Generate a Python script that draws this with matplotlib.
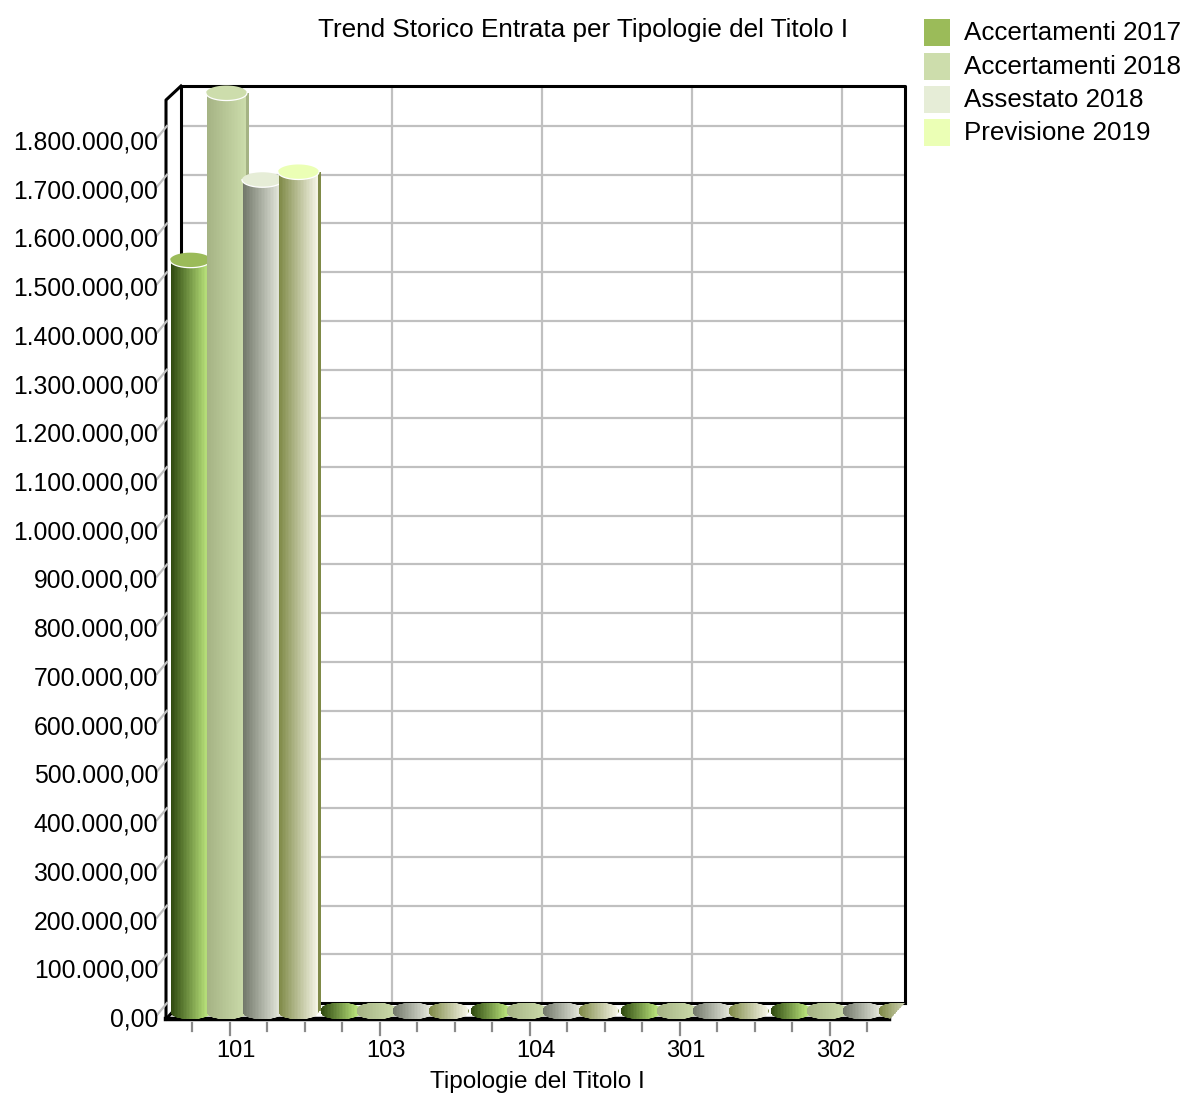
import numpy as np
import matplotlib
matplotlib.use('Agg')
import matplotlib.pyplot as plt
from matplotlib.colors import to_rgb
from matplotlib.patches import Polygon, Rectangle
from matplotlib.path import Path
from matplotlib.transforms import Affine2D, IdentityTransform

# Dati
categorie = ['101', '103', '104', '301', '302']
serie = ['Accertamenti 2017', 'Accertamenti 2018', 'Assestato 2018', 'Previsione 2019']
accertamenti_2017 = [1541000, 0, 0, 0, 0]
accertamenti_2018 = [1884000, 0, 0, 0, 0]
assestato_2018 = [1706000, 0, 0, 0, 0]
previsione_2019 = [1722000, 0, 0, 0, 0]
valori = [accertamenti_2017, accertamenti_2018, assestato_2018, previsione_2019]
tick_valori = list(range(0, 1900000, 100000))

colori = ['#9BBB59', '#CDDDAC', '#E6EDD7', '#EBFFB5']
# sfumatura del cilindro, da sinistra a destra
sfumature = [('#2F4A10', '#C0EA80'), ('#A5B384', '#CBDBAA'),
             ('#72786A', '#E8EBE0'), ('#7F8A47', '#F3F3E4')]

W, H = 1185, 1093
plt.rcParams['font.family'] = ['Liberation Sans', 'DejaVu Sans']
fig = plt.figure(figsize=(W / 100, H / 100), dpi=100)
ax = fig.add_axes([181 / W, 1 - 1003 / H, 724 / W, 917 / H])
ax.set_xlim(-7.25 / 150, 716.75 / 150)
ax.set_ylim(0, 1882000)
ax.axis('off')

# quanto vale un pixel sugli assi
px_x = 1 / 150
px_y = 100000 / 48.72
x0, x1 = ax.get_xlim()
y1 = ax.get_ylim()[1]

centro = ax.transData + Affine2D().translate(-8, -8)
fronte = ax.transData + Affine2D().translate(-15, -16)

# griglia sulla parete di fondo
grigio = '#C0C0C0'
ax.hlines(tick_valori[1:], x0, x1, color=grigio, lw=1.6, zorder=1)
ax.vlines(np.arange(5) + 0.355, 0, y1, color=grigio, lw=1.6, zorder=1)

# cornice
nero = dict(color='black', lw=2.2, clip_on=False, zorder=2, solid_capstyle='projecting')
ax.plot([x0, x0, x1, x1], [0, y1, y1, 0], **nero)
ax.plot([x0, x1], [0, 0], **nero)
ax.plot([x0 - 15 * px_x, x0 - 15 * px_x, x0], [-16 * px_y, y1 - 14 * px_y, y1], **nero)
ax.plot([x0 - 15 * px_x, x0], [-16 * px_y, 0], **nero)
ax.plot([x0 - 15 * px_x, x1 - 16 * px_x], [-16 * px_y, -16 * px_y], color='black', lw=3.2,
        clip_on=False, zorder=2)


def limita(v):
    # taglio obliquo sul lato destro del pavimento
    v = np.array(v)
    base = H - 1003
    lim = np.where(v[:, 1] >= base, 905.0, 905 - (base - v[:, 1]) * 16 / 17)
    v[:, 0] = np.minimum(v[:, 0], lim)
    return v


# cilindri
t = np.linspace(0, np.pi, 40)
larg = 39 * px_x
passo = 36 * px_x
inizio = 0.068 - larg / 2
ry = 8.5 * px_y
for i in range(len(categorie)):
    for s in range(len(serie)):
        v = valori[s][i]
        sx = inizio + i + s * passo
        cx = sx + larg / 2
        rx = larg / 2 + 1 * px_x
        bordi = np.append(np.linspace(sx, sx + larg, 27), sx + larg + 3 * px_x)
        c1, c2 = np.array(to_rgb(sfumature[s][0])), np.array(to_rgb(sfumature[s][1]))
        col = np.array([c1 + (c2 - c1) * q for q in np.linspace(0, 1, 26)] + [c1])
        mesh = ax.pcolormesh(bordi, [-ry, v + ry], col[None, :, :], transform=centro,
                             shading='flat', antialiased=False, zorder=3 + i * 4 + s)
        # contorno: base arrotondata e sommità
        sotto = np.c_[cx - rx * np.cos(t), -ry * np.sin(t)]
        if v > 0:
            sopra = [[sx + larg + 3 * px_x, 0], [sx + larg + 3 * px_x, v], [sx - 0.5 * px_x, v]]
        else:
            sopra = np.c_[cx + rx * np.cos(t), ry * np.sin(t)]
        contorno = np.vstack([sotto, sopra])
        pts = limita(centro.transform(contorno))
        mesh.set_clip_box(None)
        mesh.set_clip_path(Path(pts, closed=False), IdentityTransform())
        if v > 0:
            ang = np.linspace(0, 2 * np.pi, 60)
            top = np.c_[cx + rx * np.cos(ang), v + 7.5 * px_y * np.sin(ang)]
            ax.add_patch(Polygon(limita(centro.transform(top)), closed=True, fc=colori[s], ec='none',
                                 transform=IdentityTransform(), clip_on=False, zorder=3 + i * 4 + s))
            arco = np.c_[cx - rx * np.cos(t), v - 7.5 * px_y * np.sin(t)]
            ax.plot(arco[:, 0], arco[:, 1], color='white', lw=0.9, transform=centro, clip_on=False,
                    zorder=3 + i * 4 + s)

# tacche sotto il pavimento
tacche = np.arange(19) * 0.25 + 0.125
for k, x in enumerate(tacche):
    lung = 16 if k % 4 == 1 else 12
    ax.plot([x, x], [-4 * px_y, -lung * px_y], color='#8A8A8A', lw=1.6, transform=fronte,
            clip_on=False, zorder=2)
for i, nome in enumerate(categorie):
    ax.text(i + 0.375 + 6 * px_x, -32 * px_y, nome, transform=fronte, ha='center', va='center',
            fontsize=17, clip_on=False)

# etichette asse y con tacche oblique
for v in tick_valori:
    ax.plot([x0 - 14 * px_x, x0 - 24 * px_x], [v, v - 12 * px_y], color=grigio, lw=1.6,
            clip_on=False, zorder=2)
    testo = f'{v:,.2f}'.replace(',', 'X').replace('.', ',').replace('X', '.')
    ax.text(x0 - 23 * px_x, v - 16.5 * px_y, testo, ha='right', va='center', fontsize=17.8, clip_on=False)

fig.text(583 / W, 1 - 30 / H, 'Trend Storico Entrata per Tipologie del Titolo I', ha='center',
         va='center', fontsize=18.8)
fig.text(537 / W, 1 - 1082 / H, 'Tipologie del Titolo I', ha='center', va='center', fontsize=17.6)

# legenda
y_leg = [19, 53, 86, 119]
for s, nome in enumerate(serie):
    fig.add_artist(Rectangle((924 / W, 1 - (y_leg[s] + 27) / H), 26 / W, 27 / H, fc=colori[s], ec='none',
                             transform=fig.transFigure))
    fig.text(964 / W, 1 - (y_leg[s] + 14) / H, nome, ha='left', va='center', fontsize=18.7)

fig.savefig('out.png', dpi=100)
